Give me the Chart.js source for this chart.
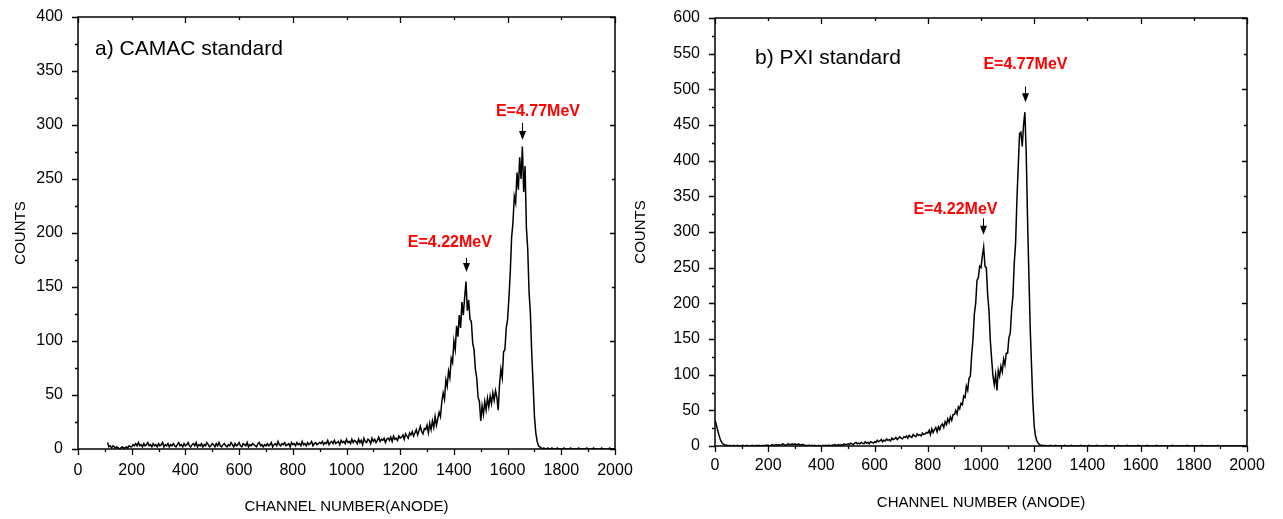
<!DOCTYPE html>
<html>
<head>
<meta charset="utf-8">
<script src="https://cdn.jsdelivr.net/npm/chart.js@4.4.1/dist/chart.umd.min.js"></script>
<style>
  body { margin: 0; background: #fff; }
  .box { position: absolute; top: 0; height: 519px; }
</style>
</head>
<body>
<div class="box" style="left:0; width:640px;"><canvas id="grafico_camac" width="640" height="519"></canvas></div>
<div class="box" style="left:620px; width:663px;"><canvas id="grafico_pxi" width="663" height="519"></canvas></div>
<script>
// one value every CH_STEP channels, starting at channel 0
const CH_STEP = 5;

// a) CAMAC standard - counts per channel (null = no data below channel 110)
const camacCounts = [
  null,null,null,null,null,null,null,null,null,null, null,null,null,null,null,null,null,null,null,null,
  null,null,6,2,3,1,3,2,1,2, 1,0,1,2,1,1,2,1,3,2,
  2,4,3,5,3,6,3,4,2,5, 3,4,6,3,4,2,5,3,4,2,
  5,3,4,6,2,4,3,5,2,4, 3,5,3,2,4,6,3,4,2,5,
  3,4,6,3,2,4,5,3,6,2, 4,3,5,2,4,3,6,4,2,3,
  5,4,2,5,3,6,3,2,4,5, 3,2,4,3,6,4,2,5,3,4,
  6,3,2,5,4,3,6,2,4,3, 5,4,3,2,5,6,3,4,2,4,
  3,5,3,4,6,2,4,5,3,7, 4,3,5,4,6,3,4,5,2,6,
  4,5,3,6,4,5,3,7,4,5, 3,6,4,5,7,3,5,6,4,5,
  6,5,7,4,6,5,8,4,6,7, 5,8,5,6,7,4,8,6,7,5,
  9,6,7,5,9,6,8,7,5,9, 6,8,4,10,7,6,9,8,5,10,
  7,9,6,8,11,7,9,8,10,6, 9,10,8,11,7,12,9,10,8,12,
  10,11,13,9,14,12,10,15,13,16, 12,15,18,13,17,21,16,14,19,18,
  22,15,24,18,26,20,30,22,28,34, 30,44,52,46,64,58,72,66,84,80,
  100,92,114,104,124,112,136,124,140,155, 128,138,120,118,98,92,74,66,48,44,
  26,40,32,44,36,47,39,49,42,52, 45,54,48,36,60,74,66,90,92,112,
  120,140,164,196,210,234,228,256,240,270, 250,280,238,262,205,185,145,125,88,60,
  30,15,7,3,2,1,0,1,0,0, 1,0,0,1,0,0,0,1,0,0,
  0,0,1,0,0,0,0,1,0,0, 0,0,0,1,0,0,0,0,0,1,
  0,0,0,0,1,0,0,0,0,0, 1,0,0,0,0,0,1,0,0,0,
  0
];

// b) PXI standard - counts per channel
const pxiCounts = [
  36,30,22,15,9,5,3,2,1,1, 0,1,0,0,1,0,0,1,0,0,
  0,1,0,0,1,0,0,0,1,0, 0,1,0,1,0,0,1,0,1,1,
  1,0,1,2,1,1,2,1,2,1, 2,3,2,1,2,3,2,2,3,2,
  3,2,2,3,1,2,2,1,1,0, 1,1,0,1,0,1,0,0,1,0,
  0,1,0,1,0,1,1,0,1,1, 2,1,1,2,1,2,1,3,2,2,
  3,2,4,3,2,4,5,3,4,3, 5,4,3,6,4,5,3,6,5,4,
  6,5,8,6,7,9,6,8,7,10, 8,9,7,11,9,10,12,9,11,13,
  11,10,13,12,14,11,15,13,12,16, 14,13,17,15,16,14,18,16,17,19,
  18,22,16,24,19,23,26,20,27,23, 29,31,26,34,30,38,33,41,36,44,
  44,50,45,55,52,60,58,70,68,84, 78,95,98,128,150,185,200,232,236,252,
  250,266,279,252,250,212,190,148,122,98, 86,100,78,106,98,112,104,122,114,130,
  130,152,158,190,210,256,284,345,392,438, 440,420,450,468,410,318,240,165,112,62,
  28,14,7,4,2,1,1,0,1,0, 0,0,1,0,0,0,1,0,0,0,
  0,0,0,1,0,0,0,0,1,0, 0,0,0,0,0,1,0,0,0,0,
  0,1,0,0,0,0,0,1,0,0, 0,0,0,0,1,0,0,0,0,0,
  0,0,0,1,0,0,0,0,0,0, 1,0,0,0,0,0,0,0,1,0,
  0,0,0,0,0,1,0,0,0,0, 0,0,1,0,0,0,0,0,0,0,
  0,0,0,0,1,0,0,0,0,0, 0,0,0,0,0,1,0,0,0,0,
  0,0,0,0,0,0,1,0,0,0, 0,0,0,0,0,0,0,0,1,0,
  0,0,0,0,0,0,0,0,0,0, 0,0,0,0,0,0,0,0,0,0,
  0
];

// peak labels: text centre (channel, counts), arrow from/to (counts) at the peak channel
const camacPeaks = [
  { text: 'E=4.22MeV', tx: 1385, ty: 191, ax: 1445, from: 177, to: 164 },
  { text: 'E=4.77MeV', tx: 1713, ty: 312, ax: 1652, from: 302, to: 286 }
];
const pxiPeaks = [
  { text: 'E=4.22MeV', tx: 904, ty: 331, ax: 1008, from: 319, to: 296 },
  { text: 'E=4.77MeV', tx: 1167, ty: 535, ax: 1167, from: 504, to: 482 }
];

const FONTE = "'Liberation Sans', Arial, sans-serif";

// moldura + ticks (maiores e menores) + textos
const molduraPlugin = {
  id: 'moldura',
  afterDraw(chart) {
    const ctx = chart.ctx;
    const a = chart.chartArea;
    const sx = chart.scales.x, sy = chart.scales.y;
    const o = chart.options.plugins.moldura;
    ctx.save();
    ctx.strokeStyle = '#000';
    ctx.lineWidth = 1.5;
    ctx.strokeRect(a.left, a.top, a.right - a.left, a.bottom - a.top);
    ctx.lineWidth = 1.3;
    ctx.beginPath();
    for (let v = sx.min; v <= sx.max; v += 100) {
      const px = Math.round(sx.getPixelForValue(v)) + 0.5;
      const major = v % 200 === 0;
      ctx.moveTo(px, a.bottom); ctx.lineTo(px, a.bottom + (major ? 6 : 3));
      if (major) { ctx.moveTo(px, a.top); ctx.lineTo(px, a.top + (v % 400 === 0 ? 6 : 3)); }
    }
    for (let v = sy.min; v <= sy.max; v += 25) {
      const py = Math.round(sy.getPixelForValue(v)) + 0.5;
      const major = v % 50 === 0;
      ctx.moveTo(a.left, py); ctx.lineTo(a.left - (major ? 6 : 3), py);
      if (major) { ctx.moveTo(a.right, py); ctx.lineTo(a.right - (v % 100 === 0 ? 5 : 3), py); }
    }
    ctx.stroke();

    ctx.fillStyle = '#000';
    ctx.font = '21px ' + FONTE;
    ctx.textAlign = 'left';
    ctx.textBaseline = 'middle';
    ctx.fillText(o.panel, a.left + o.panelDx, a.top + o.panelDy);

    o.peaks.forEach(p => {
      ctx.fillStyle = '#ff0000';
      ctx.font = 'bold 16px ' + FONTE;
      ctx.textAlign = 'center';
      ctx.fillText(p.text, sx.getPixelForValue(p.tx), sy.getPixelForValue(p.ty));
      const x = Math.round(sx.getPixelForValue(p.ax)) + 0.5;
      const y1 = sy.getPixelForValue(p.from), y2 = sy.getPixelForValue(p.to);
      ctx.strokeStyle = '#000';
      ctx.lineWidth = 1;
      ctx.beginPath(); ctx.moveTo(x, y1); ctx.lineTo(x, y2 - 6); ctx.stroke();
      ctx.fillStyle = '#000';
      ctx.beginPath(); ctx.moveTo(x - 3.5, y2 - 9); ctx.lineTo(x + 3.5, y2 - 9); ctx.lineTo(x, y2); ctx.closePath(); ctx.fill();
    });
    ctx.restore();
  }
};

// tira o espaço extra que o Chart.js reserva para os rótulos das pontas
function semSobra(s) {
  s.paddingTop = 0; s.paddingBottom = 0; s.paddingLeft = 0; s.paddingRight = 0;
}

function montaGrafico(id, counts, yMax, xTitle, cfg) {
  const pontos = counts.map((c, i) => ({ x: i * CH_STEP, y: c }));
  const config = {
    type: 'line',
    data: {
      datasets: [{
        data: pontos,
        borderColor: '#000',
        borderWidth: 1.5,
        pointRadius: 0,
        tension: 0,
        fill: false,
        spanGaps: false
      }]
    },
    options: {
      responsive: false,
      animation: false,
      devicePixelRatio: 1,
      layout: { padding: { top: cfg.top, right: cfg.right, bottom: 0, left: 0 } },
      plugins: {
        legend: { display: false },
        tooltip: { enabled: false },
        moldura: { panel: cfg.panel, panelDx: cfg.panelDx, panelDy: cfg.panelDy, peaks: cfg.peaks }
      },
      scales: {
        x: {
          type: 'linear',
          min: 0, max: 2000,
          grid: { display: false, drawTicks: false },
          border: { display: false },
          ticks: { stepSize: 200, autoSkip: false, maxRotation: 0, color: '#000', padding: cfg.xPad,
                   font: { family: FONTE, size: 16 }, callback: v => String(v) },
          title: { display: true, text: xTitle, color: '#000', padding: { top: 0, bottom: cfg.xTitlePad }, font: { family: FONTE, size: 15 } },
          afterFit: s => { s.height = cfg.xH; semSobra(s); }
        },
        y: {
          min: 0, max: yMax,
          grid: { display: false, drawTicks: false },
          border: { display: false },
          ticks: { stepSize: 50, color: '#000', padding: 15, font: { family: FONTE, size: 16 }, callback: v => String(v) },
          title: { display: true, text: 'COUNTS', color: '#000', padding: { top: cfg.yTitlePad, bottom: 0 }, font: { family: FONTE, size: 15 } },
          afterFit: s => { s.width = cfg.yW; semSobra(s); }
        }
      }
    },
    plugins: [molduraPlugin]
  };
  new Chart(document.getElementById(id).getContext('2d'), config);
}

montaGrafico('grafico_camac', camacCounts, 400, 'CHANNEL NUMBER(ANODE)', {
  top: 17, right: 25, yW: 78, xH: 70, xPad: 12, xTitlePad: 3, yTitlePad: 12,
  panel: 'a) CAMAC standard', panelDx: 17, panelDy: 32, peaks: camacPeaks
});
montaGrafico('grafico_pxi', pxiCounts, 600, 'CHANNEL NUMBER (ANODE)', {
  top: 18, right: 36, yW: 95, xH: 73, xPad: 10, xTitlePad: 7, yTitlePad: 12,
  panel: 'b) PXI standard', panelDx: 40, panelDy: 40, peaks: pxiPeaks
});
</script>
</body>
</html>
